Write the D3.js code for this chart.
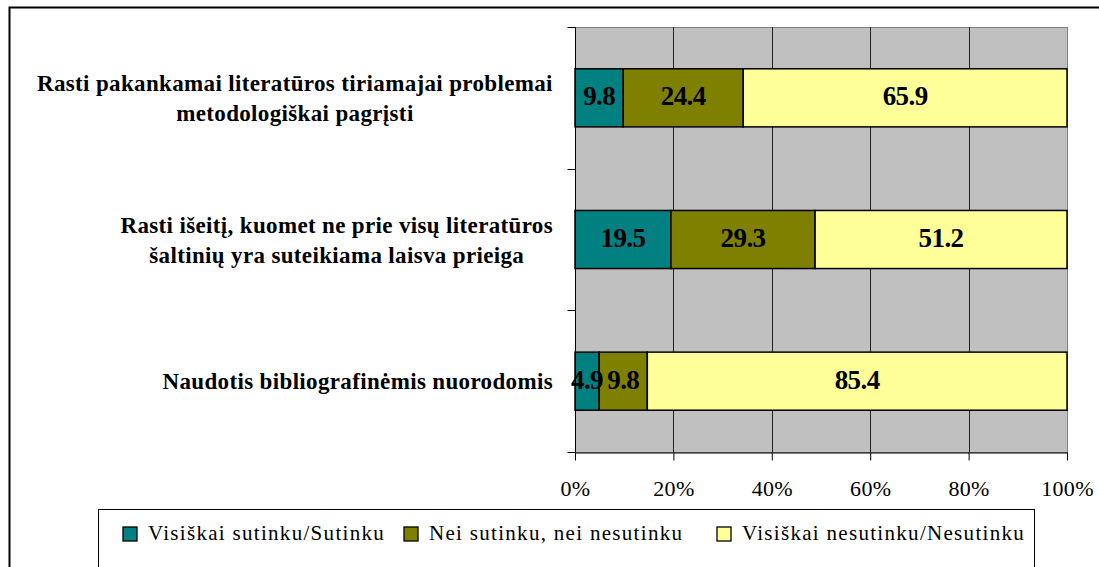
<!DOCTYPE html>
<html>
<head>
<meta charset="utf-8">
<script src="https://cdn.jsdelivr.net/npm/d3@7"></script>
<style>
  body { margin: 0; background: #fff; }
  svg { display: block; font-family: "Liberation Serif", "Times New Roman", serif; }
</style>
</head>
<body>
<svg id="graph" width="1099" height="567"></svg>
<script>
// categories, top to bottom; each label split into lines as in the picture
var categories = [
    ["Rasti pakankamai literatūros tiriamajai problemai", "metodologiškai pagrįsti"],
    ["Rasti išeitį, kuomet ne prie visų literatūros", "šaltinių yra suteikiama laisva prieiga"],
    ["Naudotis bibliografinėmis nuorodomis"]
];
var seriesNames = ["Visiškai sutinku/Sutinku", "Nei sutinku, nei nesutinku", "Visiškai nesutinku/Nesutinku"];
var agree    = [9.8, 19.5, 4.9];
var neutral  = [24.4, 29.3, 9.8];
var disagree = [65.9, 51.2, 85.4];
var xTicks = [0, 20, 40, 60, 80, 100];
var colors = ["#008080", "#808000", "#ffff99"];

var svg = d3.select("#graph");
var pLeft = 575, pRight = 1067, pTop = 27, pBottom = 452;

// letter-spacing that makes a text span the wanted width
function spread(t, want) {
    var n = t.text().length;
    var w = t.node().getComputedTextLength();
    return (want - w) / n;
}

// outer frame
svg.append("path").attr("d", "M9.5,567 V7.5 H1099").attr("fill", "none").attr("stroke", "#000").attr("stroke-width", 2);

var x = d3.scaleLinear().domain([0, 100]).range([pLeft, pRight]);
var y = d3.scaleBand().domain(d3.range(categories.length)).range([pTop, pBottom]).paddingInner(0.59).paddingOuter(0.295);
var yFull = d3.scaleBand().domain(d3.range(categories.length)).range([pTop, pBottom]);

// plot background
svg.append("rect").attr("x", pLeft + 0.5).attr("y", pTop + 0.5).attr("width", pRight - pLeft).attr("height", pBottom - pTop)
    .attr("fill", "#c0c0c0").attr("stroke", "#808080").attr("stroke-width", 1);

// gridlines
svg.append("g").selectAll("line").data(xTicks.slice(1, -1)).enter().append("line")
    .attr("x1", function(d) { return Math.round(x(d)) + 0.5; })
    .attr("x2", function(d) { return Math.round(x(d)) + 0.5; })
    .attr("y1", pTop).attr("y2", pBottom)
    .attr("stroke", "#222").attr("stroke-width", 1);

// stacked bars
var segs = [];
categories.forEach(function(c, i) {
    var acc = 0;
    [agree[i], neutral[i], disagree[i]].forEach(function(v, k) {
        segs.push({ i: i, k: k, x0: acc, x1: Math.min(acc + v, 100), v: v });
        acc += v;
    });
});
var gBars = svg.append("g");
gBars.selectAll("rect").data(segs).enter().append("rect")
    .attr("x", function(d) { return x(d.x0); })
    .attr("width", function(d) { return x(d.x1) - x(d.x0); })
    .attr("y", function(d) { return y(d.i); })
    .attr("height", y.bandwidth())
    .attr("fill", function(d) { return colors[d.k]; })
    .attr("stroke", "#000").attr("stroke-width", 1.5);

gBars.selectAll("text").data(segs).enter().append("text")
    .attr("x", function(d) { return x((d.x0 + d.x1) / 2); })
    .attr("y", function(d) { return y(d.i) + y.bandwidth() / 2 - 2; })
    .attr("dy", "0.35em")
    .attr("text-anchor", "middle")
    .attr("font-size", 27).attr("font-weight", "bold")
    .attr("letter-spacing", -0.6)
    .text(function(d) { return d.v.toFixed(1); });

// y axis line and ticks
var gy = svg.append("g").attr("transform", "translate(" + (pLeft + 0.5) + ",0)");
gy.append("line").attr("x1", 0).attr("x2", 0).attr("y1", pTop).attr("y2", pBottom).attr("stroke", "#000");
gy.selectAll("line.t").data(d3.range(categories.length + 1)).enter().append("line").attr("class", "t")
    .attr("x1", -8).attr("x2", 0)
    .attr("y1", function(d) { return Math.round(pTop + d * yFull.bandwidth()) + 0.5; })
    .attr("y2", function(d) { return Math.round(pTop + d * yFull.bandwidth()) + 0.5; })
    .attr("stroke", "#000");

// category labels: block right-aligned, lines centred inside block
var labelSpacing = null;
categories.forEach(function(lines, i) {
    var cy = yFull(i) + yFull.bandwidth() / 2;
    var g = svg.append("g");
    var lh = 30;
    var texts = lines.map(function(l, j) {
        return g.append("text")
            .attr("y", cy + (j - (lines.length - 1) / 2) * lh)
            .attr("dy", "0.35em")
            .attr("text-anchor", "middle")
            .attr("font-size", 23).attr("font-weight", "bold")
            .text(l);
    });
    if (labelSpacing === null) labelSpacing = spread(texts[0], 516);
    texts.forEach(function(t) { t.attr("letter-spacing", labelSpacing.toFixed(2)); });
    var w = d3.max(texts, function(t) { return t.node().getBBox().width; });
    texts.forEach(function(t) { t.attr("x", 553 - w / 2); });
});

// x axis
var gx = svg.append("g").attr("transform", "translate(0," + (pBottom + 0.5) + ")");
gx.call(d3.axisBottom(x).tickValues(xTicks).tickSize(8).tickSizeOuter(0).tickFormat(function(d) { return d + "%"; }));
gx.select(".domain").attr("stroke", "#000");
gx.selectAll(".tick line").attr("stroke", "#000");
gx.selectAll(".tick text").attr("font-size", 22).attr("font-family", "Liberation Serif, serif")
    .attr("fill", "#000").attr("y", 28).attr("letter-spacing", 0.3);

// legend
var lg = svg.append("g");
lg.append("rect").attr("x", 98.5).attr("y", 509.5).attr("width", 936).attr("height", 80)
    .attr("fill", "#fff").attr("stroke", "#000").attr("stroke-width", 1);
var legX = [123, 404, 717];
var legSpacing = null;
seriesNames.forEach(function(n, k) {
    lg.append("rect").attr("x", legX[k]).attr("y", 527).attr("width", 14).attr("height", 14)
        .attr("fill", colors[k]).attr("stroke", "#000").attr("stroke-width", 1.3);
    var t = lg.append("text").attr("x", legX[k] + 25).attr("y", 533).attr("dy", "0.35em")
        .attr("font-size", 21).text(n);
    if (legSpacing === null) legSpacing = spread(t, 237);
    t.attr("letter-spacing", legSpacing.toFixed(2));
});
</script>
</body>
</html>
